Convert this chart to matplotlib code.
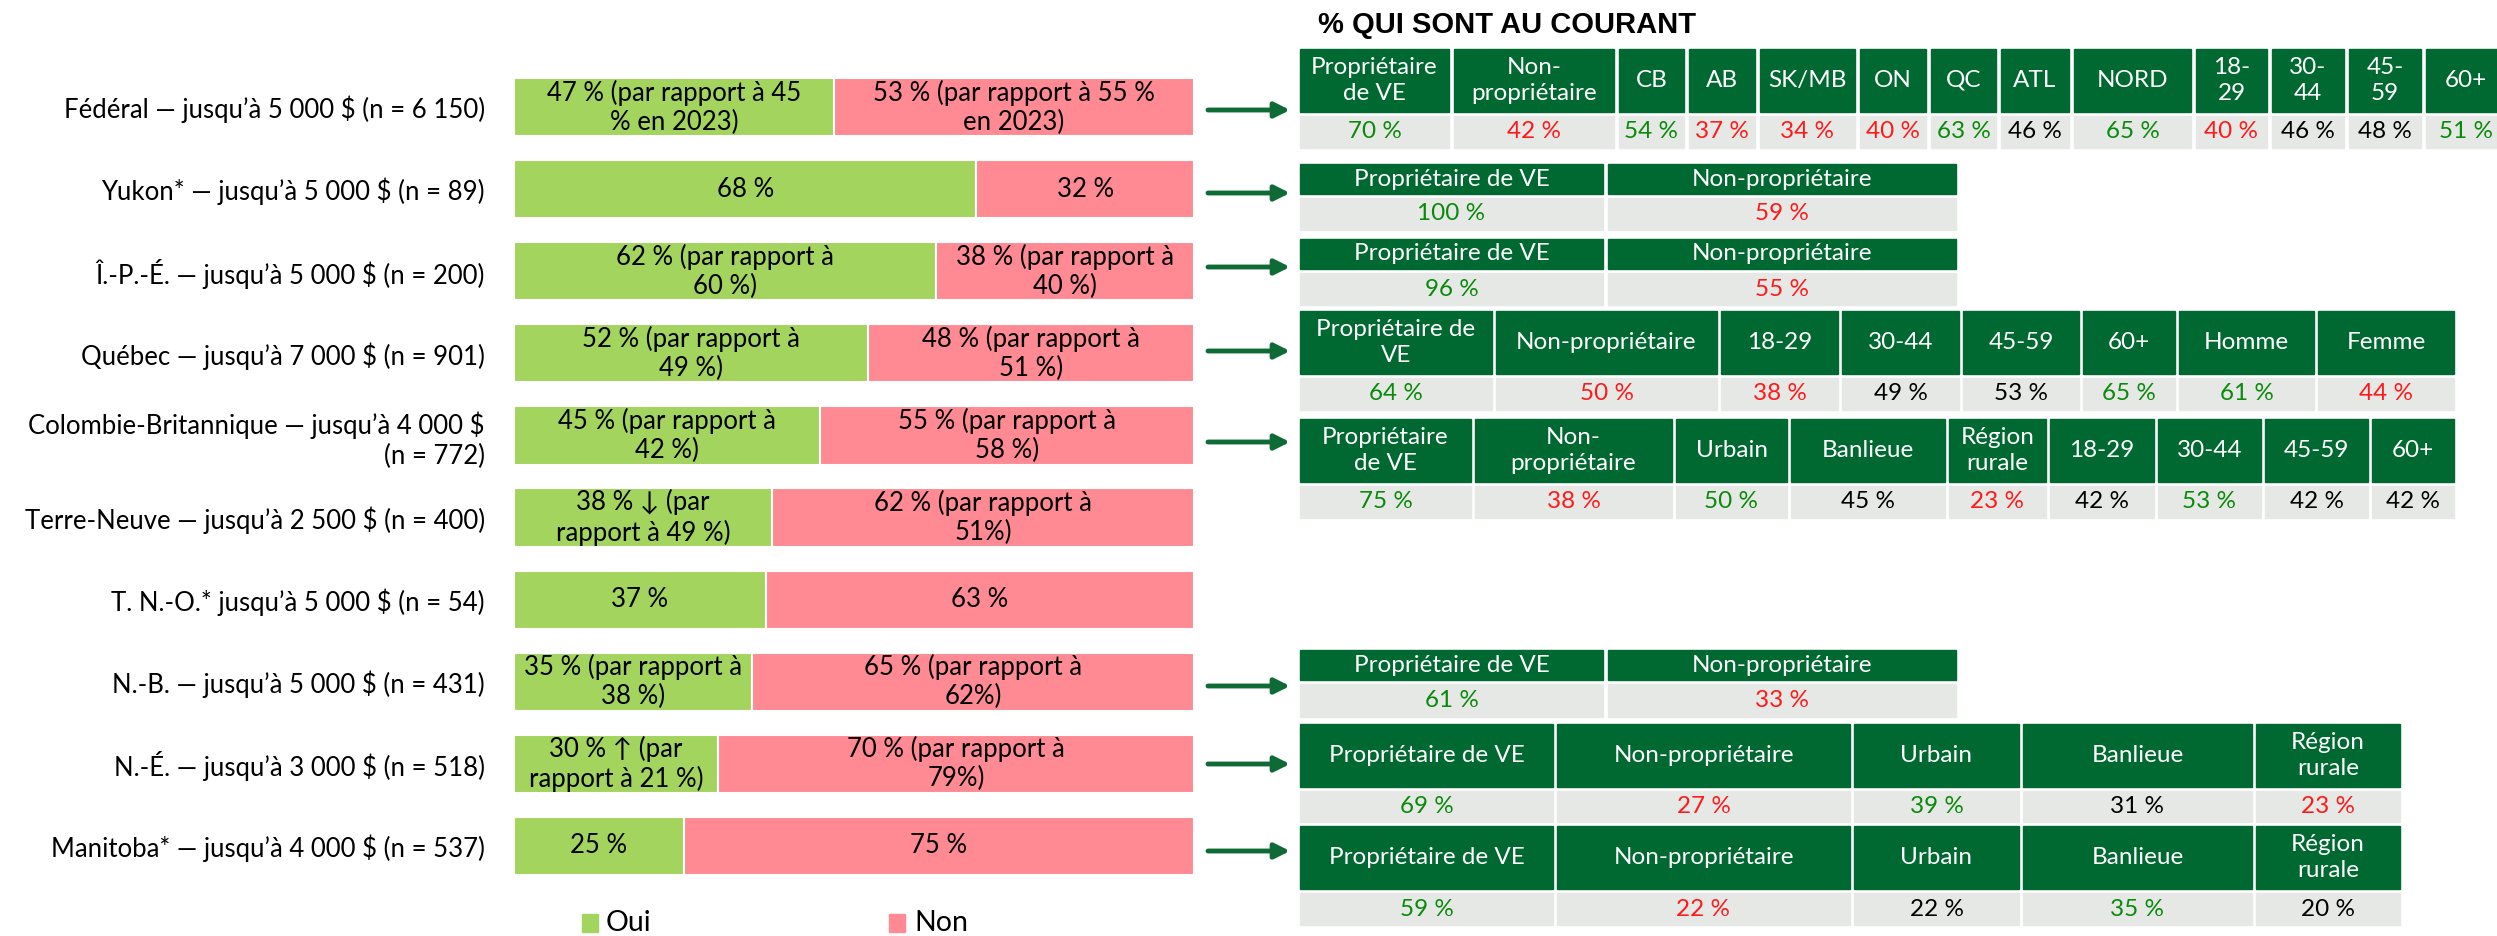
import matplotlib.pyplot as plt
from matplotlib.patches import Rectangle

plt.rcParams['font.family'] = ['Lato', 'DejaVu Sans']

# --- data ---
row_labels = [
    "Fédéral — jusqu’à 5 000 $ (n = 6 150)",
    "Yukon* — jusqu’à 5 000 $ (n = 89)",
    "Î.-P.-É. — jusqu’à 5 000 $ (n = 200)",
    "Québec — jusqu’à 7 000 $ (n = 901)",
    "Colombie-Britannique — jusqu’à 4 000 $\n(n = 772)",
    "Terre-Neuve — jusqu’à 2 500 $ (n = 400)",
    "T. N.-O.* jusqu’à 5 000 $ (n = 54)",
    "N.-B. — jusqu’à 5 000 $ (n = 431)",
    "N.-É. — jusqu’à 3 000 $ (n = 518)",
    "Manitoba* — jusqu’à 4 000 $ (n = 537)",
]
oui = [47, 68, 62, 52, 45, 38, 37, 35, 30, 25]
non = [53, 32, 38, 48, 55, 62, 63, 65, 70, 75]
oui_text = [
    "47 % (par rapport à 45\n% en 2023)", "68 %", "62 % (par rapport à\n60 %)",
    "52 % (par rapport à\n49 %)", "45 % (par rapport à\n42 %)", "38 % ↓ (par\nrapport à 49 %)",
    "37 %", "35 % (par rapport à\n38 %)", "30 % ↑ (par\nrapport à 21 %)", "25 %",
]
non_text = [
    "53 % (par rapport à 55 %\nen 2023)", "32 %", "38 % (par rapport à\n40 %)",
    "48 % (par rapport à\n51 %)", "55 % (par rapport à\n58 %)", "62 % (par rapport à\n51%)",
    "63 %", "65 % (par rapport à\n62%)", "70 % (par rapport à\n79%)", "75 %",
]

title = "% QUI SONT AU COURANT"
owner = ["Propriétaire de VE", "Non-propriétaire"]
area = ["Propriétaire de VE", "Non-propriétaire", "Urbain", "Banlieue", "Région\nrurale"]

# row index -> (headers, values, value tone g/r/k)
tables = {
    0: (["Propriétaire\nde VE", "Non-\npropriétaire", "CB", "AB", "SK/MB", "ON", "QC", "ATL",
         "NORD", "18-\n29", "30-\n44", "45-\n59", "60+"],
        ["70 %", "42 %", "54 %", "37 %", "34 %", "40 %", "63 %", "46 %", "65 %", "40 %",
         "46 %", "48 %", "51 %"],
        "grgrrrgkgrkkg"),
    1: (owner, ["100 %", "59 %"], "gr"),
    2: (owner, ["96 %", "55 %"], "gr"),
    3: (["Propriétaire de\nVE", "Non-propriétaire", "18-29", "30-44", "45-59", "60+", "Homme",
         "Femme"],
        ["64 %", "50 %", "38 %", "49 %", "53 %", "65 %", "61 %", "44 %"],
        "grrkkggr"),
    4: (["Propriétaire\nde VE", "Non-\npropriétaire", "Urbain", "Banlieue", "Région\nrurale",
         "18-29", "30-44", "45-59", "60+"],
        ["75 %", "38 %", "50 %", "45 %", "23 %", "42 %", "53 %", "42 %", "42 %"],
        "grgkrkgkk"),
    7: (owner, ["61 %", "33 %"], "gr"),
    8: (area, ["69 %", "27 %", "39 %", "31 %", "23 %"], "grgkr"),
    9: (area, ["59 %", "22 %", "22 %", "35 %", "20 %"], "grkgk"),
}

# --- layout (pixels) ---
W, H = 2497, 936
# top, header height, value height, column widths, gap, arrow y
table_layout = {
    0: (49, 63, 32, [149, 160, 65, 66, 95, 66, 65, 68, 117, 71, 72, 72, 80], 5, 110),
    1: (164, 30, 32, [303, 348], 5, 193),
    2: (239, 30, 32, [303, 348], 5, 267),
    3: (311, 63, 32, [192, 221, 117, 117, 116, 92, 135, 136], 4, 351),
    4: (419, 63, 32, [171, 197, 111, 154, 97, 104, 103, 103, 82], 4, 442),
    7: (650, 30, 33, [303, 348], 5, 686),
    8: (724, 63, 31, [253, 293, 165, 229, 144], 4, 764),
    9: (826, 63, 32, [253, 293, 165, 229, 144], 4, 851),
}
tone = {"g": "#0a8a0a", "r": "#ff1a1a", "k": "black"}
GREEN_BAR = "#a2d45e"
PINK_BAR = "#ff8a93"
HEAD = "#006831"
CELL = "#e6e8e6"
FS = 18.5
TFS = 17.5

fig = plt.figure(figsize=(W / 100, H / 100), dpi=100)

# overlay in pixel coordinates
ov = fig.add_axes([0, 0, 1, 1])
ov.set_xlim(0, W)
ov.set_ylim(H, 0)
ov.axis("off")

# bars
top_px, bot_px = 66, 887
ax = fig.add_axes([514 / W, 1 - bot_px / H, 680 / W, (bot_px - top_px) / H])
y = range(len(oui))
ax.barh(y, oui, height=0.71, color=GREEN_BAR, edgecolor="white", linewidth=1.5)
ax.barh(y, non, left=oui, height=0.71, color=PINK_BAR, edgecolor="white", linewidth=1.5)
for i in y:
    ax.text(oui[i] / 2, i, oui_text[i], ha="center", va="center", fontsize=FS, linespacing=1.2)
    ax.text(oui[i] + non[i] / 2, i, non_text[i], ha="center", va="center", fontsize=FS,
            linespacing=1.2)
ax.set_xlim(0, 100)
ax.set_ylim(len(oui) - 0.5, -0.5)
ax.set_yticks(list(y))
ax.set_yticklabels(row_labels, fontsize=FS, linespacing=1.25)
ax.tick_params(axis="y", length=0, pad=21)
ax.set_xticks([])
for s in ax.spines.values():
    s.set_visible(False)

# legend
ov.add_patch(Rectangle((582, 914), 16, 18, color=GREEN_BAR))
ov.text(606, 923, "Oui", va="center", fontsize=FS + 2)
ov.add_patch(Rectangle((889, 914), 16, 18, color=PINK_BAR))
ov.text(914, 923, "Non", va="center", fontsize=FS + 2)

# title
ov.text(1318, 25, title, va="center", ha="left", fontsize=21, fontweight="bold",
        family="Liberation Sans")

# tables and arrows
for row, (heads, vals, tones) in tables.items():
    top, hh, vh, widths, gap, ay = table_layout[row]
    ov.annotate("", xy=(1290, ay), xytext=(1208, ay),
                arrowprops=dict(arrowstyle="-|>,head_length=0.9,head_width=0.45",
                                color="#0f6b36", lw=3.5, shrinkA=0, shrinkB=0))
    x = 1300
    for head, val, t, w in zip(heads, vals, tones, widths):
        ov.add_patch(Rectangle((x, top), w, hh, color=HEAD, clip_on=False))
        ov.add_patch(Rectangle((x, top + hh + 4), w, vh, color=CELL, clip_on=False))
        ov.text(x + w / 2, top + hh / 2, head, ha="center", va="center", color="white",
                fontsize=TFS, linespacing=1.3)
        ov.text(x + w / 2, top + hh + 4 + vh / 2, val, ha="center", va="center",
                color=tone[t], fontsize=TFS)
        x += w + gap

fig.savefig("out.png", dpi=100)
